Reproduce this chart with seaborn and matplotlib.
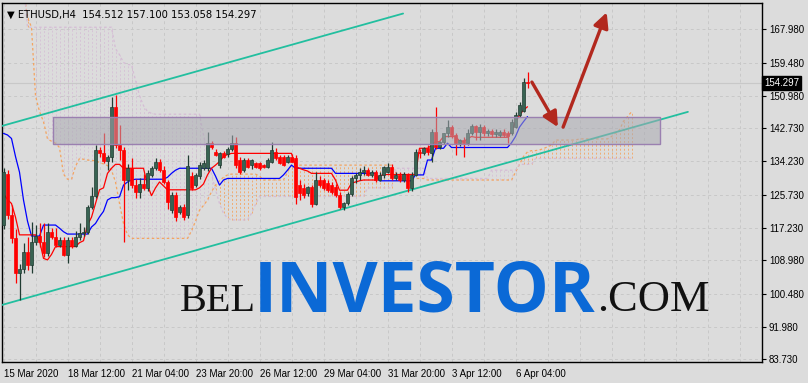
import numpy as np
import matplotlib
matplotlib.use("Agg")
import matplotlib.pyplot as plt
import seaborn as sns
from matplotlib.patches import Rectangle

# ---------------- data ----------------
title_text = "ETHUSD,H4  154.512 157.100 153.058 154.297"
last_price = 154.297
last_label = "154.297"

x_tick_bars = [0, 16, 32, 48, 64, 80, 96, 112, 128]
x_tick_labels = ["15 Mar 2020", "18 Mar 12:00", "21 Mar 04:00", "23 Mar 20:00",
                 "26 Mar 12:00", "29 Mar 04:00", "31 Mar 20:00", "3 Apr 12:00",
                 "6 Apr 04:00"]
y_tick_values = [83.73, 91.98, 100.48, 108.98, 117.23, 125.73, 134.23, 142.73,
                 150.98, 159.48, 167.98]
y_tick_labels = ["83.730", "91.980", "100.480", "108.980", "117.230", "125.730",
                 "134.230", "142.730", "150.980", "159.480", "167.980"]

opens = [118.0, 131.0, 120.6, 114.6, 105.8, 106.9, 111.2, 107.8, 113.8, 115.3,
         113.6, 110.8, 116.3, 115.0, 112.9, 114.2, 110.4, 114.2, 112.7, 115.0,
         115.9, 116.3, 122.7, 125.3, 137.2, 136.3, 134.3, 135.5, 148.1, 138.4,
         137.2, 129.5, 132.6, 128.2, 126.5, 128.5, 127.4, 130.8, 132.5, 134.2,
         132.1, 129.0, 121.8, 125.7, 121.4, 122.7, 120.5, 130.4, 128.2, 130.4,
         132.5, 132.5, 138.9, 136.7, 133.3, 136.3, 136.1, 137.3, 138.9, 134.6,
         132.1, 134.6, 133.3, 133.8, 133.8, 133.3, 132.9, 134.2, 136.7, 135.5,
         135.5, 134.2, 135.5, 135.0, 128.2, 127.4, 126.1, 127.8, 123.5, 129.5,
         129.5, 128.7, 128.2, 127.8, 125.7, 122.7, 123.6, 126.0, 129.9, 130.8,
         131.6, 132.1, 130.9, 131.6, 129.6, 130.9, 131.6, 132.9, 130.0, 130.8,
         129.6, 131.0, 127.4, 130.8, 136.7, 136.3, 137.6, 136.3, 141.8, 138.0,
         139.1, 141.4, 143.1, 140.9, 138.9, 139.8, 138.9, 141.6, 143.3, 141.8,
         143.1, 141.4, 142.0, 141.2, 141.0, 141.8, 141.6, 141.4, 143.1, 146.1,
         147.0, 154.512]
highs = [132.5, 132.0, 123.1, 117.0, 108.0, 113.5, 115.0, 118.9, 118.0, 118.4,
         118.4, 118.4, 117.2, 117.2, 115.0, 115.0, 115.0, 115.0, 116.5, 118.4,
         117.5, 123.2, 127.8, 138.4, 138.0, 141.4, 136.0, 150.6, 151.2, 143.5,
         138.0, 133.5, 135.0, 129.8, 130.0, 131.0, 132.0, 133.0, 135.0, 134.8,
         133.0, 129.6, 126.5, 126.5, 123.0, 123.5, 135.9, 131.5, 131.3, 134.0,
         134.6, 141.8, 139.5, 137.5, 136.6, 137.0, 138.0, 141.0, 140.5, 135.5,
         135.2, 135.2, 134.8, 134.2, 134.2, 133.7, 135.0, 139.3, 137.6, 136.0,
         136.0, 136.0, 136.2, 136.0, 129.5, 128.5, 128.0, 128.2, 131.6, 130.5,
         130.0, 129.5, 129.0, 128.5, 126.5, 124.0, 126.5, 130.5, 131.2, 132.5,
         133.0, 132.5, 132.0, 132.0, 131.5, 133.2, 133.8, 133.5, 131.5, 131.6,
         131.5, 131.4, 131.5, 137.5, 137.5, 138.0, 138.5, 142.5, 148.2, 139.5,
         141.5, 144.8, 143.6, 141.5, 140.0, 140.4, 142.5, 143.8, 143.6, 143.9,
         143.5, 142.5, 142.6, 142.6, 142.3, 142.6, 142.0, 145.0, 146.8, 149.5,
         155.5, 157.1]
lows = [117.0, 119.5, 113.5, 103.3, 98.9, 105.7, 106.5, 105.7, 112.9, 112.5,
        109.9, 110.2, 114.4, 112.5, 112.3, 110.0, 108.2, 112.2, 112.3, 114.2,
        115.2, 115.8, 122.2, 124.8, 135.5, 133.8, 132.1, 134.2, 137.6, 134.6,
        113.8, 127.0, 127.5, 124.8, 125.0, 127.0, 126.8, 130.2, 132.0, 131.5,
        128.5, 122.0, 121.0, 119.0, 120.8, 119.2, 119.8, 127.0, 127.8, 129.8,
        132.0, 131.8, 137.5, 135.6, 132.5, 135.2, 135.5, 136.8, 132.6, 131.0,
        131.5, 132.5, 132.4, 132.5, 132.0, 132.5, 132.5, 133.8, 134.6, 133.5,
        133.0, 133.8, 134.0, 123.5, 124.5, 125.0, 125.5, 122.7, 123.0, 127.8,
        127.0, 126.5, 126.0, 125.2, 122.0, 121.8, 123.0, 125.5, 128.8, 129.5,
        130.8, 130.5, 130.2, 129.0, 129.2, 130.0, 131.2, 129.5, 129.5, 129.0,
        129.0, 126.5, 126.8, 130.5, 135.2, 135.8, 136.0, 134.2, 137.5, 137.5,
        138.6, 140.5, 140.2, 135.9, 138.2, 135.5, 138.5, 141.0, 139.8, 139.8,
        140.8, 140.8, 140.6, 140.5, 140.6, 140.5, 138.9, 141.0, 142.8, 145.5,
        146.8, 153.058]
closes = [131.6, 120.6, 114.6, 105.8, 106.9, 111.2, 107.8, 113.8, 115.3, 113.6,
          110.8, 116.3, 115.0, 112.9, 114.2, 110.4, 114.2, 112.7, 115.0, 115.9,
          116.3, 122.7, 125.3, 137.2, 136.3, 134.3, 135.5, 148.1, 138.4, 137.2,
          129.5, 132.6, 128.2, 126.5, 128.5, 127.4, 131.2, 132.5, 134.2, 132.1,
          129.0, 124.0, 125.7, 120.1, 122.7, 120.1, 133.0, 127.4, 130.8, 133.3,
          133.8, 138.9, 138.0, 135.9, 136.3, 135.5, 137.3, 138.9, 133.3, 131.6,
          134.6, 132.9, 134.6, 132.9, 132.5, 132.9, 134.6, 137.2, 135.0, 133.8,
          133.3, 135.5, 134.2, 125.2, 126.1, 125.7, 127.8, 123.5, 129.5, 128.2,
          127.4, 127.0, 126.5, 125.7, 122.7, 123.6, 126.0, 129.9, 130.8, 131.6,
          132.1, 130.9, 131.6, 129.6, 130.9, 132.9, 132.9, 130.0, 130.8, 129.6,
          131.0, 127.4, 130.8, 136.7, 136.3, 137.6, 136.6, 141.8, 138.0, 139.1,
          141.4, 143.1, 140.9, 138.9, 139.8, 138.9, 141.6, 143.3, 141.8, 143.1,
          141.4, 142.0, 141.2, 141.8, 141.8, 141.0, 140.8, 144.4, 146.1, 148.7,
          154.5, 154.297]

tenkan = [126.0, 124.5, 123.5, 120.0, 115.5, 115.5, 115.5, 115.5, 115.5, 114.0,
          109.5, 109.1, 110.5, 112.5, 112.5, 112.5, 112.5, 112.5, 112.5, 113.5,
          114.0, 118.0, 120.0, 123.5, 127.0, 127.5, 131.2, 132.5, 133.5, 133.5,
          132.5, 132.5, 132.5, 132.5, 132.5, 132.5, 128.2, 125.5, 127.5, 129.0,
          128.0, 127.0, 127.0, 127.0, 127.0, 127.0, 127.0, 127.0, 127.0, 127.5,
          128.5, 130.8, 132.5, 133.3, 134.2, 135.5, 136.0, 136.3, 136.3, 136.3,
          136.3, 136.3, 136.3, 136.3, 136.3, 136.3, 136.3, 136.3, 136.3, 136.3,
          136.3, 136.3, 136.3, 132.9, 132.5, 132.1, 131.8, 131.2, 131.2, 131.2,
          131.2, 131.2, 131.2, 129.5, 126.9, 126.9, 126.9, 128.7, 129.0, 129.3,
          129.5, 129.5, 129.5, 129.5, 130.5, 130.9, 130.9, 130.9, 130.9, 130.9,
          130.9, 130.9, 130.9, 130.9, 137.6, 137.6, 137.6, 138.3, 139.3, 139.3,
          140.6, 140.6, 140.6, 140.6, 139.5, 139.3, 140.0, 140.6, 140.4, 140.4,
          140.4, 140.4, 140.4, 140.4, 140.4, 140.4, 140.4, 141.8, 144.4, 146.0,
          147.4, 148.2]
kijun = [141.4, 141.0, 140.1, 135.5, 131.5, 124.4, 119.0, 115.2, 115.2, 115.2,
         118.0, 118.0, 118.0, 118.0, 117.2, 116.3, 115.7, 115.7, 115.7, 115.7,
         115.7, 115.7, 117.5, 118.4, 120.1, 121.5, 124.4, 125.0, 125.0, 125.2,
         128.2, 129.0, 129.5, 129.7, 129.7, 129.7, 129.7, 129.7, 129.7, 129.7,
         129.7, 130.2, 131.2, 132.0, 132.5, 132.5, 132.5, 132.5, 132.5, 132.5,
         132.5, 132.5, 132.5, 130.5, 128.2, 129.5, 129.9, 129.9, 129.9, 129.9,
         129.9, 129.9, 129.9, 129.9, 129.9, 129.9, 129.9, 129.9, 129.9, 129.9,
         130.8, 132.0, 133.3, 132.5, 132.5, 132.5, 132.5, 132.5, 132.5, 132.5,
         132.5, 132.5, 132.5, 131.2, 131.2, 131.2, 131.2, 131.2, 131.2, 131.2,
         131.2, 131.2, 131.2, 131.2, 129.3, 129.3, 129.3, 129.3, 129.3, 129.3,
         129.3, 129.3, 129.3, 130.8, 130.8, 130.8, 134.6, 134.6, 137.6, 137.6,
         137.6, 138.9, 137.8, 137.8, 137.8, 137.8, 137.8, 137.8, 137.8, 137.8,
         137.8, 137.8, 137.8, 137.8, 137.8, 137.8, 137.8, 139.0, 140.6, 143.0,
         144.4, 145.7]
span_a = [178.0, 178.0, 178.0, 178.0, 178.0, 178.0, 171.0, 168.5, 151.0, 147.0,
          144.4, 140.0, 139.4, 138.9, 137.8, 131.0, 129.7, 129.7, 133.0, 135.0,
          134.8, 134.6, 134.5, 134.4, 134.0, 133.6, 133.2, 132.0, 129.0, 123.5,
          118.4, 115.5, 114.6, 114.6, 114.6, 114.6, 114.6, 114.6, 114.6, 114.6,
          114.6, 114.6, 114.6, 114.6, 114.6, 114.6, 114.6, 116.5, 119.0, 121.8,
          123.0, 124.4, 126.5, 128.2, 129.3, 130.2, 130.8, 131.0, 131.0, 131.0,
          131.0, 131.0, 131.0, 131.0, 130.5, 129.5, 129.5, 129.5, 129.5, 129.5,
          129.5, 131.5, 133.3, 133.3, 133.3, 133.3, 133.3, 133.3, 133.3, 133.3,
          133.3, 133.3, 133.3, 133.3, 133.3, 133.3, 133.3, 133.3, 133.3, 133.3,
          133.3, 133.3, 133.3, 133.3, 133.3, 133.3, 133.3, 133.3, 131.5, 129.9,
          129.9, 129.9, 129.9, 129.9, 129.9, 129.9, 129.5, 129.5, 129.5, 129.5,
          129.5, 129.5, 129.5, 129.5, 129.5, 129.5, 129.5, 129.5, 129.5, 129.5,
          129.5, 129.5, 129.5, 129.5, 129.5, 129.5, 129.5, 129.5, 131.5, 133.5,
          135.5, 136.7, 137.0, 137.0, 137.2, 137.5, 138.0, 138.4, 139.7, 139.7,
          139.7, 139.7, 139.7, 139.7, 140.0, 140.0, 140.0, 140.0, 140.0, 140.0,
          140.0, 140.0, 140.6, 141.5, 142.3, 144.5, 145.7, 146.9]
span_b = [180.0, 180.0, 180.0, 180.0, 180.0, 180.0, 168.5, 168.5, 168.5, 168.5,
          168.5, 168.5, 168.5, 168.5, 168.5, 168.5, 168.5, 168.5, 168.5, 168.5,
          168.5, 168.5, 168.5, 168.5, 168.5, 168.5, 168.5, 168.5, 163.0, 161.5,
          159.5, 159.0, 158.9, 155.0, 151.0, 148.5, 147.0, 146.5, 146.3, 146.3,
          146.3, 146.3, 146.3, 146.3, 146.3, 146.3, 146.3, 146.3, 146.3, 146.3,
          141.0, 136.0, 131.0, 127.0, 123.5, 121.0, 119.8, 119.3, 119.3, 119.3,
          119.3, 119.3, 121.0, 123.3, 125.3, 125.3, 125.3, 125.3, 125.3, 125.3,
          125.3, 125.3, 125.3, 125.3, 125.3, 125.3, 125.3, 125.3, 125.3, 125.3,
          125.3, 125.3, 125.3, 125.3, 125.3, 125.3, 125.3, 125.3, 125.3, 125.3,
          125.3, 127.5, 127.5, 127.5, 127.5, 127.5, 127.5, 127.5, 132.5, 132.5,
          132.5, 132.5, 132.5, 132.5, 132.5, 132.5, 129.9, 129.9, 129.9, 129.9,
          129.9, 129.9, 129.9, 129.9, 129.9, 129.9, 129.9, 129.9, 129.9, 129.9,
          129.9, 129.9, 132.0, 132.0, 132.0, 132.0, 132.0, 132.0, 132.0, 133.5,
          133.5, 133.5, 133.5, 135.0, 135.0, 135.0, 135.0, 135.0, 135.0, 135.0,
          135.0, 135.0, 135.0, 135.0, 135.0, 135.0, 135.0, 135.0, 135.0, 135.0,
          135.0, 135.0, 135.0, 135.0, 135.0, 135.0, 135.0, 135.0]

# drawn objects (bar index, price)
upper_channel_bars = [-0.4, 99.9]
upper_channel_prices = [143.3, 172.0]
lower_channel_bars = [-0.4, 171.1]
lower_channel_prices = [97.6, 146.9]
zone_bars = [12.4, 164.1]
zone_prices = [138.7, 145.6]
arrow_down_bars = [132.1, 138.6]
arrow_down_prices = [154.5, 143.0]
arrow_up_bars = [139.9, 150.8]
arrow_up_prices = [143.0, 172.3]

# ---------------- style ----------------
sns.set_style("white")
BG = "#dcdcdc"
plt.rcParams["font.family"] = ["DejaVu Sans"]
TICK_FONT = "Liberation Sans"

W, H = 808, 383
fig = plt.figure(figsize=(W / 100, H / 100), dpi=100, facecolor=BG)
ax = fig.add_axes([2 / W, 21 / H, 760 / W, 359 / H])
ax.set_facecolor(BG)
ax.set_xlim(-0.375, 189.625)
ax.set_ylim(83.04, 174.69)

bars = np.arange(len(opens))
cloud_x = np.arange(len(span_a))
sa = np.array(span_a)
sb = np.array(span_b)

# grid
for gx in np.arange(0, 190, 8):
    ax.axvline(gx, color="#c8c8c8", lw=0.7, ls=(0, (3, 3)), zorder=0)
for gy in y_tick_values:
    ax.axhline(gy, color="#c8c8c8", lw=0.7, ls=(0, (3, 3)), zorder=0)

# cloud hatch
ORANGE = "#f4a460"
THISTLE = "#d5bcd5"
for xi, a, b in zip(cloud_x, sa, sb):
    if a >= b:
        col, al = ORANGE, 0.85
    else:
        col, al = THISTLE, 0.75
    ax.vlines(xi, min(a, b), max(a, b), colors=col, lw=0.7,
              linestyles=(0, (2, 2)), zorder=1, alpha=al)

# spans
sns.lineplot(x=cloud_x, y=sa, ax=ax, color=ORANGE, lw=0.9,
             linestyle=(0, (2, 2)), zorder=2)
sns.lineplot(x=cloud_x, y=sb, ax=ax, color=THISTLE, lw=0.9,
             linestyle=(0, (2, 2)), zorder=2)

# current price line
ax.axhline(last_price, color="#c8c8c8", lw=0.8, zorder=1)

# channels
TEAL = "#22bf9f"
ax.plot(upper_channel_bars, upper_channel_prices, color=TEAL, lw=1.3, zorder=3)
ax.plot(lower_channel_bars, lower_channel_prices, color=TEAL, lw=1.3, zorder=3)

# tenkan / kijun
sns.lineplot(x=bars, y=np.array(kijun), ax=ax, color="#0000ff", lw=0.9, zorder=4)
sns.lineplot(x=bars, y=np.array(tenkan), ax=ax, color="#ff0000", lw=0.9, zorder=4)

# candles
o = np.array(opens); h = np.array(highs); l = np.array(lows); c = np.array(closes)
up = c >= o
GREEN_F = "#386352"
GREEN_E = "#203c32"
RED = "#ff0000"
ax.vlines(bars[up], l[up], h[up], colors=GREEN_E, lw=0.9, zorder=5)
ax.vlines(bars[~up], l[~up], h[~up], colors=RED, lw=0.9, zorder=5)
ax.bar(bars[up], np.maximum(c[up] - o[up], 0.15), bottom=o[up], width=0.72,
       color=GREEN_F, edgecolor=GREEN_E, lw=0.5, zorder=6)
ax.bar(bars[~up], np.maximum(o[~up] - c[~up], 0.15), bottom=c[~up], width=0.72,
       color=RED, edgecolor=RED, lw=0.5, zorder=6)

# zone rectangle
ax.add_patch(Rectangle((zone_bars[0], zone_prices[0]), zone_bars[1] - zone_bars[0],
                       zone_prices[1] - zone_prices[0], facecolor="#a9a9b2",
                       alpha=0.55, edgecolor="none", zorder=7))
ax.add_patch(Rectangle((zone_bars[0], zone_prices[0]), zone_bars[1] - zone_bars[0],
                       zone_prices[1] - zone_prices[0], facecolor="none",
                       edgecolor="#9a80b0", lw=1.0, zorder=7))

# arrows
ARR = "#b2281e"
for bx, py in ((arrow_down_bars, arrow_down_prices), (arrow_up_bars, arrow_up_prices)):
    ax.annotate("", xy=(bx[1], py[1]), xytext=(bx[0], py[0]),
                arrowprops=dict(arrowstyle="-|>,head_length=0.9,head_width=0.45",
                                color=ARR, lw=2.4, shrinkA=0, shrinkB=0),
                zorder=8)

# axes
for s in ax.spines.values():
    s.set_color("black")
    s.set_linewidth(1.0)
ax.yaxis.tick_right()
ax.set_yticks(y_tick_values)
ax.set_yticklabels(y_tick_labels)
ax.set_xticks(x_tick_bars)
ax.set_xticklabels(x_tick_labels)
ax.tick_params(axis="both", direction="out", length=3, width=0.8, color="black",
               labelsize=7, labelcolor="black", pad=2)
for lbl in ax.get_xticklabels() + ax.get_yticklabels():
    lbl.set_family(TICK_FONT)
for lbl in ax.get_xticklabels():
    lbl.set_horizontalalignment("left")
ax.set_xlabel("")
ax.set_ylabel("")

# title
ax.text(0.006, 0.982, "\u25bc " + title_text, transform=ax.transAxes,
        fontsize=7.2, color="black", va="top", ha="left", zorder=10)

# price label
ax.text(1.003, last_price, last_label, transform=ax.get_yaxis_transform(),
        fontsize=7, family=TICK_FONT, color="white", va="center", ha="left",
        zorder=10, clip_on=False,
        bbox=dict(boxstyle="square,pad=0.2", facecolor="black", edgecolor="black"))

# watermark
base_y = (H - 311) / H
fig.text(180 / W, base_y, "BEL", fontsize=29, family="Liberation Serif",
         color="#111111", ha="left", va="baseline")
fig.text(254 / W, base_y, "INVESTOR", fontsize=50, family="Open Sans",
         fontweight="bold", color="#0b69d6", ha="left", va="baseline")
fig.text(597 / W, base_y, ".COM", fontsize=32, family="Liberation Serif",
         color="#111111", ha="left", va="baseline")

fig.savefig("out.png", dpi=100, facecolor=BG)
